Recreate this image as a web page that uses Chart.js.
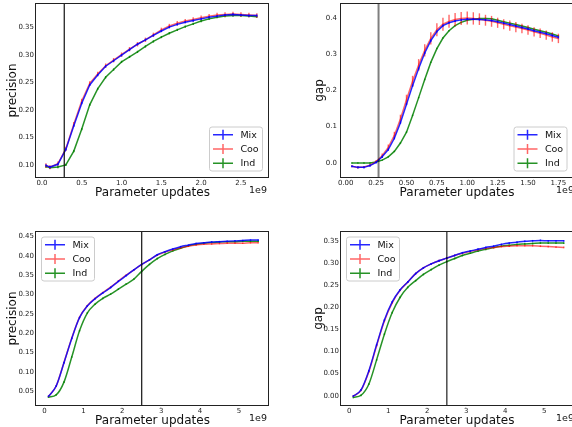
<!DOCTYPE html>
<html>
<head>
<meta charset="utf-8">
<script src="https://cdn.jsdelivr.net/npm/chart.js@4.4.0/dist/chart.umd.min.js"></script>
<style>
body { margin: 0; background: #fff; }
#wrap { position: relative; width: 572px; height: 427px; }
canvas { position: absolute; left: 0; top: 0; }
</style>
</head>
<body>
<div id="wrap">
<canvas id="c1" width="572" height="427"></canvas>
<canvas id="c2" width="572" height="427"></canvas>
<canvas id="c3" width="572" height="427"></canvas>
<canvas id="c4" width="572" height="427"></canvas>
</div>
<script>
var names = ['Mix', 'Coo', 'Ind'];
var colors = ['rgba(0,0,255,0.85)', 'rgba(255,0,0,0.6)', 'rgba(0,128,0,0.85)'];

// top left - precision
var x1 = [0.05,0.1,0.2,0.3,0.4,0.5,0.6,0.7,0.8,0.9,1.0,1.1,1.2,1.3,1.4,1.5,1.6,1.7,1.8,1.9,2.0,2.1,2.2,2.3,2.4,2.5,2.6,2.7];
var mix1 = [0.099,0.096,0.101,0.128,0.171,0.212,0.245,0.263,0.279,0.289,0.299,0.309,0.319,0.327,0.335,0.343,0.350,0.355,0.359,0.362,0.365,0.368,0.370,0.372,0.373,0.372,0.371,0.371];
var coo1 = [0.099,0.096,0.102,0.129,0.174,0.216,0.248,0.265,0.280,0.290,0.300,0.310,0.319,0.327,0.336,0.345,0.352,0.357,0.361,0.364,0.367,0.370,0.372,0.373,0.374,0.373,0.372,0.371];
var ind1 = [0.097,0.095,0.096,0.100,0.125,0.165,0.209,0.238,0.259,0.273,0.287,0.296,0.305,0.315,0.324,0.332,0.339,0.345,0.351,0.356,0.361,0.365,0.368,0.370,0.371,0.371,0.370,0.369];
var err1 = [0.002, 0.004, 0.002];

// top right - gap
var x2 = [0.05,0.10,0.15,0.20,0.25,0.30,0.35,0.40,0.45,0.50,0.55,0.60,0.65,0.70,0.75,0.80,0.85,0.90,0.95,1.00,1.05,1.10,1.15,1.20,1.25,1.30,1.35,1.40,1.45,1.50,1.55,1.60,1.65,1.70,1.75];
var mix2 = [-0.009,-0.012,-0.012,-0.007,0.002,0.017,0.037,0.068,0.111,0.162,0.213,0.260,0.303,0.337,0.362,0.378,0.386,0.391,0.394,0.396,0.396,0.395,0.394,0.392,0.389,0.385,0.381,0.377,0.373,0.369,0.364,0.360,0.356,0.351,0.346];
var coo2 = [-0.009,-0.012,-0.011,-0.006,0.004,0.020,0.043,0.076,0.121,0.174,0.225,0.270,0.310,0.343,0.367,0.382,0.390,0.395,0.398,0.399,0.398,0.396,0.393,0.390,0.386,0.382,0.378,0.374,0.370,0.366,0.361,0.357,0.352,0.347,0.343];
var ind2 = [0.000,0.000,0.000,0.000,0.003,0.008,0.017,0.032,0.055,0.085,0.131,0.180,0.230,0.277,0.315,0.344,0.364,0.378,0.387,0.393,0.396,0.398,0.398,0.397,0.393,0.389,0.385,0.381,0.377,0.373,0.368,0.364,0.360,0.355,0.350];
var cooErr2 = [0.003,0.003,0.003,0.003,0.004,0.006,0.008,0.010,0.012,0.014,0.015,0.016,0.017,0.017,0.018,0.018,0.018,0.018,0.018,0.018,0.017,0.016,0.015,0.015,0.014,0.014,0.014,0.014,0.013,0.013,0.013,0.013,0.013,0.013,0.013];
var err2 = [0.003, cooErr2, 0.002];

// bottom left - precision, long run
var x3 = [0.1,0.3,0.5,0.7,0.9,1.1,1.3,1.5,1.7,1.9,2.1,2.3,2.5,2.7,2.9,3.1,3.3,3.5,3.7,3.9,4.1,4.3,4.5,4.7,4.9,5.1,5.3,5.5];
var mix3 = [0.036,0.063,0.123,0.186,0.240,0.270,0.289,0.304,0.318,0.334,0.349,0.364,0.378,0.390,0.403,0.411,0.418,0.424,0.428,0.432,0.434,0.436,0.437,0.438,0.439,0.440,0.441,0.441];
var coo3 = [0.036,0.063,0.124,0.187,0.241,0.271,0.290,0.305,0.319,0.335,0.350,0.364,0.378,0.390,0.402,0.410,0.416,0.421,0.425,0.428,0.430,0.431,0.432,0.433,0.433,0.433,0.434,0.434];
var ind3 = [0.034,0.040,0.073,0.138,0.206,0.252,0.275,0.290,0.301,0.314,0.327,0.340,0.360,0.378,0.393,0.404,0.413,0.420,0.426,0.430,0.433,0.435,0.436,0.437,0.437,0.438,0.438,0.438];
var err3 = [0.002, 0.002, 0.002];

// bottom right - gap, long run
var x4 = [0.1,0.3,0.5,0.7,0.9,1.1,1.3,1.5,1.7,1.9,2.1,2.3,2.5,2.7,2.9,3.1,3.3,3.5,3.7,3.9,4.1,4.3,4.5,4.7,4.9,5.1,5.3,5.5];
var mix4 = [-0.001,0.013,0.056,0.115,0.171,0.212,0.239,0.257,0.276,0.289,0.298,0.305,0.311,0.317,0.323,0.327,0.331,0.335,0.338,0.342,0.345,0.347,0.349,0.350,0.351,0.350,0.350,0.350];
var coo4 = [-0.001,0.012,0.054,0.113,0.169,0.210,0.238,0.257,0.276,0.289,0.298,0.305,0.311,0.317,0.322,0.326,0.330,0.333,0.335,0.337,0.338,0.339,0.339,0.339,0.338,0.337,0.336,0.335];
var ind4 = [-0.004,0.001,0.026,0.081,0.139,0.188,0.222,0.245,0.260,0.274,0.285,0.295,0.303,0.310,0.317,0.322,0.327,0.331,0.335,0.338,0.340,0.342,0.343,0.344,0.345,0.345,0.345,0.345];
var err4 = [0.002, 0.002, 0.002];

// vertical marker lines
var marks = [0.28, 0.27, 2.5, 2.5];

// ticks
var xt1 = [0, 0.5, 1, 1.5, 2, 2.5];
var xl1 = ['0.0','0.5','1.0','1.5','2.0','2.5'];
var yt1 = [0.10, 0.15, 0.20, 0.25, 0.30, 0.35];
var yl1 = ['0.10','0.15','0.20','0.25','0.30','0.35'];
var xt2 = [0, 0.25, 0.5, 0.75, 1, 1.25, 1.5, 1.75];
var xl2 = ['0.00','0.25','0.50','0.75','1.00','1.25','1.50','1.75'];
var yt2 = [0, 0.1, 0.2, 0.3, 0.4];
var yl2 = ['0.0','0.1','0.2','0.3','0.4'];
var xt3 = [0, 1, 2, 3, 4, 5];
var xl3 = ['0','1','2','3','4','5'];
var yt3 = [0.05, 0.10, 0.15, 0.20, 0.25, 0.30, 0.35, 0.40, 0.45];
var yl3 = ['0.05','0.10','0.15','0.20','0.25','0.30','0.35','0.40','0.45'];
var yt4 = [0, 0.05, 0.10, 0.15, 0.20, 0.25, 0.30, 0.35];
var yl4 = ['0.00','0.05','0.10','0.15','0.20','0.25','0.30','0.35'];

var FONT = 'DejaVu Sans';

var errorBars = {
  id: 'errorBars',
  afterDatasetDraw: function(chart, args) {
    var ds = chart.data.datasets[args.index];
    if (ds.err === undefined) return;
    var ys = chart.scales.y, ctx = chart.ctx, ca = chart.chartArea;
    ctx.save();
    ctx.beginPath();
    ctx.rect(ca.left, ca.top, ca.right - ca.left, ca.bottom - ca.top);
    ctx.clip();
    ctx.strokeStyle = ds.borderColor;
    ctx.lineWidth = 1.4;
    args.meta.data.forEach(function(pt, i) {
      var v = ds.data[i].y;
      var e = Array.isArray(ds.err) ? ds.err[i] : ds.err;
      ctx.beginPath();
      ctx.moveTo(pt.x, ys.getPixelForValue(v - e));
      ctx.lineTo(pt.x, ys.getPixelForValue(v + e));
      ctx.stroke();
    });
    ctx.restore();
  }
};

var decor = {
  id: 'decor',
  afterDraw: function(chart, args, o) {
    var ctx = chart.ctx, ca = chart.chartArea;
    ctx.save();
    ctx.strokeStyle = '#222';
    ctx.lineWidth = 1;
    ctx.strokeRect(ca.left - 0.5, ca.top - 0.5, ca.right - ca.left + 1, ca.bottom - ca.top + 1);

    ctx.fillStyle = '#111';
    ctx.font = '12px "' + FONT + '"';
    ctx.textAlign = 'center';
    ctx.textBaseline = 'middle';
    ctx.fillText('Parameter updates', (ca.left + ca.right) / 2 + 0.5, ca.bottom + 15.8);
    ctx.save();
    ctx.translate(o.yTitleX, (ca.top + ca.bottom) / 2);
    ctx.rotate(-Math.PI / 2);
    ctx.fillText(o.yTitle, 0, 0);
    ctx.restore();

    ctx.font = '9.5px "' + FONT + '"';
    ctx.textAlign = 'right';
    ctx.fillText('1e9', o.offX, ca.bottom + 13.8);

    // legend
    var lx = o.legend[0], ly = o.legend[1];
    ctx.fillStyle = 'rgba(255,255,255,0.85)';
    ctx.strokeStyle = '#cccccc';
    ctx.beginPath();
    ctx.roundRect(lx + 0.5, ly + 0.5, 53, 44, 2.5);
    ctx.fill();
    ctx.stroke();
    ctx.font = '9.5px "' + FONT + '"';
    ctx.textAlign = 'left';
    for (var k = 0; k < 3; k++) {
      var ry = ly + 8.3 + k * 14.2;
      ctx.strokeStyle = colors[k];
      ctx.lineWidth = 1.5;
      ctx.beginPath();
      ctx.moveTo(lx + 4, ry);
      ctx.lineTo(lx + 24, ry);
      ctx.moveTo(lx + 14, ry - 5);
      ctx.lineTo(lx + 14, ry + 5);
      ctx.stroke();
      ctx.fillStyle = '#111';
      ctx.fillText(names[k], lx + 31.4, ry + 0.5);
    }
    ctx.restore();
  }
};

function makePanel(id, p) {
  var datasets = [{
    label: 'mark',
    data: [{x: p.mark, y: p.ymin}, {x: p.mark, y: p.ymax}],
    borderColor: p.markColor,
    borderWidth: p.markWidth,
    pointRadius: 0
  }];
  p.series.forEach(function(s, k) {
    datasets.push({
      label: names[k],
      data: p.x.map(function(v, i) { return {x: v, y: s[i]}; }),
      err: p.err[k],
      borderColor: colors[k],
      borderWidth: 1.5,
      pointRadius: 0,
      tension: p.smooth ? 0.4 : 0,
      cubicInterpolationMode: p.smooth ? 'monotone' : 'default',
      fill: false
    });
  });
  var tickFont = {family: FONT, size: 7};
  new Chart(document.getElementById(id), {
    type: 'line',
    data: {datasets: datasets},
    plugins: [errorBars, decor],
    options: {
      responsive: false,
      animation: false,
      devicePixelRatio: 1,
      layout: {
        autoPadding: false,
        padding: {left: p.area[0] - 20, top: p.area[2], right: 572 - p.area[1], bottom: 427 - p.area[3] - 20}
      },
      plugins: {
        legend: {display: false},
        tooltip: {enabled: false},
        decor: {yTitle: p.yTitle, yTitleX: p.yTitleX, legend: p.legend, offX: p.offX}
      },
      scales: {
        x: {
          type: 'linear',
          min: p.xmin, max: p.xmax,
          grid: {display: false, drawTicks: false},
          border: {display: false},
          afterBuildTicks: function(s) { s.ticks = p.xt.map(function(v) { return {value: v}; }); },
          afterFit: function(s) { s.height = 20; s.paddingLeft = 0; s.paddingRight = 0; },
          ticks: {
            autoSkip: false, maxRotation: 0, padding: 2, color: '#222', font: tickFont,
            callback: function(v, i) { return p.xl[i]; }
          }
        },
        y: {
          min: p.ymin, max: p.ymax,
          grid: {display: false, drawTicks: false},
          border: {display: false},
          afterBuildTicks: function(s) { s.ticks = p.yt.map(function(v) { return {value: v}; }); },
          afterFit: function(s) { s.width = 20; s.paddingTop = 0; s.paddingBottom = 0; },
          ticks: {
            autoSkip: false, padding: p.ypad, color: '#222', font: tickFont,
            callback: function(v, i) { return p.yl[i]; }
          }
        }
      }
    }
  });
}

makePanel('c1', {
  x: x1, series: [mix1, coo1, ind1], err: err1, smooth: false,
  area: [36, 268, 4, 177], xmin: -0.075, xmax: 2.84, ymin: 0.078, ymax: 0.392,
  xt: xt1, xl: xl1, yt: yt1, yl: yl1, ypad: 2,
  mark: marks[0], markColor: '#111', markWidth: 1.2,
  yTitle: 'precision', yTitleX: 13, legend: [209, 126.5], offX: 267
});
makePanel('c2', {
  x: x2, series: [mix2, coo2, ind2], err: err2, smooth: false,
  area: [341, 572, 4, 177], xmin: -0.039, xmax: 1.862, ymin: -0.0385, ymax: 0.4377,
  xt: xt2, xl: xl2, yt: yt2, yl: yl2, ypad: 4,
  mark: marks[1], markColor: 'rgba(0,0,0,0.5)', markWidth: 2,
  yTitle: 'gap', yTitleX: 320, legend: [513.5, 126.5], offX: 574
});
makePanel('c3', {
  x: x3, series: [mix3, coo3, ind3], err: err3, smooth: true,
  area: [36, 268, 232, 405], xmin: -0.22, xmax: 5.75, ymin: 0.0137, ymax: 0.462,
  xt: xt3, xl: xl3, yt: yt3, yl: yl3, ypad: 2,
  mark: marks[2], markColor: '#111', markWidth: 1.2,
  yTitle: 'precision', yTitleX: 13, legend: [41, 236.5], offX: 267
});
makePanel('c4', {
  x: x4, series: [mix4, coo4, ind4], err: err4, smooth: true,
  area: [341, 572, 232, 405], xmin: -0.213, xmax: 5.71, ymin: -0.021, ymax: 0.370,
  xt: xt3, xl: xl3, yt: yt4, yl: yl4, ypad: 2,
  mark: marks[3], markColor: 'rgba(0,0,0,0.7)', markWidth: 1.5,
  yTitle: 'gap', yTitleX: 318.5, legend: [346, 236.5], offX: 574
});
</script>
</body>
</html>
